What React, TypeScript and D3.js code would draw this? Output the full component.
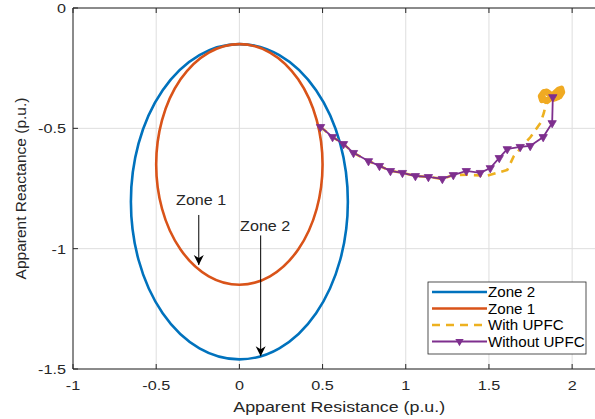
import React, { useEffect, useRef } from "react";
import * as d3 from "d3";

// x ticks / y ticks
const xTicks = [-1, -0.5, 0, 0.5, 1, 1.5, 2];
const yTicks = [0, -0.5, -1, -1.5];

// relay zones (mho circles): center R, center X, radius R, radius X
const zone2 = { cx: 0, cy: -0.805, rx: 0.652, ry: 0.655 };
const zone1 = { cx: 0, cy: -0.65, rx: 0.5, ry: 0.5 };

// impedance trajectory without UPFC
const withoutR = [0.488, 0.56, 0.626, 0.686, 0.776, 0.842, 0.908, 0.98, 1.058, 1.136, 1.22, 1.286, 1.364, 1.448, 1.508, 1.562, 1.61, 1.688, 1.748, 1.826, 1.88, 1.884];
const withoutX = [-0.494, -0.536, -0.565, -0.602, -0.636, -0.656, -0.677, -0.685, -0.698, -0.702, -0.71, -0.694, -0.677, -0.685, -0.665, -0.623, -0.586, -0.577, -0.573, -0.536, -0.478, -0.37];

// impedance trajectory with UPFC (ends in a small oscillating cluster)
const withR = [0.488, 0.56, 0.626, 0.686, 0.776, 0.842, 0.908, 0.98, 1.058, 1.136, 1.22, 1.286, 1.37, 1.49, 1.61, 1.65, 1.75, 1.81, 1.83, 1.844,
  1.818, 1.81, 1.826, 1.848, 1.868, 1.876, 1.895, 1.918, 1.936, 1.942, 1.926, 1.9, 1.878, 1.85, 1.826, 1.816, 1.83, 1.856, 1.872, 1.89, 1.912, 1.93, 1.934, 1.916, 1.892, 1.874, 1.846, 1.824, 1.822, 1.842, 1.864, 1.88];
const withX = [-0.494, -0.536, -0.565, -0.602, -0.636, -0.656, -0.677, -0.685, -0.698, -0.702, -0.71, -0.694, -0.693, -0.697, -0.673, -0.615, -0.536, -0.478, -0.436, -0.395,
  -0.384, -0.366, -0.35, -0.346, -0.356, -0.368, -0.352, -0.338, -0.334, -0.35, -0.368, -0.376, -0.372, -0.388, -0.38, -0.362, -0.348, -0.352, -0.364, -0.358, -0.344, -0.342, -0.356, -0.372, -0.378, -0.374, -0.384, -0.372, -0.356, -0.35, -0.36, -0.37];

// annotations: label, text position, arrow start, arrow end
const notes = [
  { label: "Zone 1", tx: -0.23, ty: -0.82, x1: -0.244, y1: -0.86, x2: -0.244, y2: -1.068 },
  { label: "Zone 2", tx: 0.155, ty: -0.925, x1: 0.128, y1: -0.945, x2: 0.128, y2: -1.447 },
];

const legendItems = ["Zone 2", "Zone 1", "With UPFC", "Without UPFC"];

const colors = {
  zone2: "#0072BD",
  zone1: "#D95319",
  withUpfc: "#EDB120",
  withoutUpfc: "#7E2F8E",
};

const W = 595;
const H = 419;
const margin = { left: 73, top: 8, bottom: 50 };
const font = "'Liberation Sans', Arial, sans-serif";
const axisColor = "#262626";
const stretch = 1.15;

export default function App() {
  const svgRef = useRef<SVGSVGElement>(null);

  useEffect(() => {
    const svg = d3.select(svgRef.current);
    svg.selectAll("*").remove();

    const x = d3.scaleLinear().domain([-1, 2.2]).range([margin.left, 605.4]);
    const y = d3.scaleLinear().domain([-1.5, 0]).range([369, margin.top]);

    const [x0, x1] = x.range();
    const [y0, y1] = y.range();

    // text is a bit wider than the font in the original image
    const label = (g: any, tx: number, ty: number, str: string, size: number, anchor: string, sx = stretch, fill = axisColor) =>
      g.append("text")
        .attr("transform", `translate(${tx},${ty}) scale(${sx},1)`)
        .attr("text-anchor", anchor)
        .style("font-family", font).style("font-size", size + "px").attr("fill", fill)
        .text(str);

    const defs = svg.append("defs");
    defs.append("clipPath").attr("id", "plotclip")
      .append("rect").attr("x", x0).attr("y", y1).attr("width", x1 - x0).attr("height", y0 - y1);

    defs.append("marker")
      .attr("id", "arrowhead")
      .attr("viewBox", "0 0 10 10")
      .attr("refX", 10).attr("refY", 5)
      .attr("markerWidth", 10).attr("markerHeight", 11)
      .attr("markerUnits", "userSpaceOnUse")
      .attr("orient", "auto")
      .append("path").attr("d", "M0,0 L10,5 L0,10 L3,5 Z").attr("fill", "#000");

    // grid
    const grid = svg.append("g");
    grid.selectAll(".gx").data(xTicks).join("line")
      .attr("x1", (d) => x(d)).attr("x2", (d) => x(d))
      .attr("y1", y0).attr("y2", y1)
      .attr("stroke", "#dedede").attr("stroke-width", 1);
    grid.selectAll(".gy").data(yTicks).join("line")
      .attr("y1", (d) => y(d)).attr("y2", (d) => y(d))
      .attr("x1", x0).attr("x2", x1)
      .attr("stroke", "#dedede").attr("stroke-width", 1);

    const plot = svg.append("g").attr("clip-path", "url(#plotclip)");

    // zones
    const ellipse = (z: typeof zone1, col: string) =>
      plot.append("ellipse")
        .attr("cx", x(z.cx)).attr("cy", y(z.cy))
        .attr("rx", x(z.rx) - x(0)).attr("ry", y(0) - y(z.ry))
        .attr("fill", "none").attr("stroke", col).attr("stroke-width", 2.6);
    ellipse(zone2, colors.zone2);
    ellipse(zone1, colors.zone1);

    // with UPFC
    const withPts = withR.map((r, i) => [x(r), y(withX[i])] as [number, number]);
    plot.append("path")
      .attr("d", d3.line()(withPts))
      .attr("fill", "none").attr("stroke", colors.withUpfc)
      .attr("stroke-width", 2.6).attr("stroke-dasharray", "8,6");
    // dense cluster at the end of the trace
    plot.append("path")
      .attr("d", d3.line()(withPts.slice(20)))
      .attr("fill", "none").attr("stroke", "#F0AA22")
      .attr("stroke-width", 5.5).attr("stroke-linejoin", "round").attr("stroke-linecap", "round");

    // without UPFC
    const woPts = withoutR.map((r, i) => [x(r), y(withoutX[i])] as [number, number]);
    plot.append("path")
      .attr("d", d3.line()(woPts))
      .attr("fill", "none").attr("stroke", colors.withoutUpfc).attr("stroke-width", 1.8);
    const tri = d3.symbol().type(d3.symbolTriangle).size(30);
    plot.selectAll(".mk").data(woPts).join("path")
      .attr("d", tri)
      .attr("transform", (d) => `translate(${d[0]},${d[1]}) rotate(180)`)
      .attr("fill", colors.withoutUpfc).attr("stroke", colors.withoutUpfc).attr("stroke-width", 0.8);

    // annotations
    notes.forEach((n) => {
      svg.append("line")
        .attr("x1", x(n.x1)).attr("y1", y(n.y1))
        .attr("x2", x(n.x2)).attr("y2", y(n.y2))
        .attr("stroke", "#000").attr("stroke-width", 1)
        .attr("marker-end", "url(#arrowhead)");
      label(svg, x(n.tx), y(n.ty), n.label, 14, "middle");
    });

    // axes box
    const box = svg.append("g");
    box.append("line").attr("x1", x0).attr("x2", x1).attr("y1", y0).attr("y2", y0).attr("stroke", axisColor);
    box.append("line").attr("x1", x0).attr("x2", x1).attr("y1", y1).attr("y2", y1).attr("stroke", axisColor);
    box.append("line").attr("x1", x0).attr("x2", x0).attr("y1", y0).attr("y2", y1).attr("stroke", axisColor);

    // ticks
    xTicks.forEach((t) => {
      box.append("line").attr("x1", x(t)).attr("x2", x(t)).attr("y1", y0).attr("y2", y0 - 5).attr("stroke", axisColor);
      box.append("line").attr("x1", x(t)).attr("x2", x(t)).attr("y1", y1).attr("y2", y1 + 5).attr("stroke", axisColor);
      label(box, x(t), y0 + 21, String(t), 13.5, "middle", 1.2);
    });
    yTicks.forEach((t) => {
      box.append("line").attr("x1", x0).attr("x2", x0 + 5).attr("y1", y(t)).attr("y2", y(t)).attr("stroke", axisColor);
      label(box, x0 - 7, y(t) + 5, String(t), 13.5, "end", 1.2);
    });

    // axis labels
    label(svg, (x0 + x1) / 2, 412, "Apparent Resistance (p.u.)", 15.5, "middle", 1.15);
    svg.append("text")
      .attr("transform", `translate(26,${(y0 + y1) / 2}) rotate(-90)`)
      .attr("text-anchor", "middle")
      .style("font-family", font).style("font-size", "15.5px").attr("fill", axisColor)
      .text("Apparent Reactance (p.u.)");

    // legend
    const lg = svg.append("g").attr("transform", "translate(428,282)");
    lg.append("rect").attr("width", 158).attr("height", 72)
      .attr("fill", "#fff").attr("stroke", axisColor).attr("stroke-width", 0.8);
    const styles = [
      { col: colors.zone2, dash: null, mk: false },
      { col: colors.zone1, dash: null, mk: false },
      { col: colors.withUpfc, dash: "8,6", mk: false },
      { col: colors.withoutUpfc, dash: null, mk: true },
    ];
    legendItems.forEach((name, i) => {
      const yy = 10 + i * 16.5;
      const s = styles[i];
      lg.append("line").attr("x1", 4).attr("x2", 59).attr("y1", yy).attr("y2", yy)
        .attr("stroke", s.col).attr("stroke-width", s.mk ? 1.8 : 2.6)
        .attr("stroke-dasharray", s.dash);
      if (s.mk) {
        lg.append("path").attr("d", tri)
          .attr("transform", `translate(31.5,${yy}) rotate(180)`)
          .attr("fill", s.col);
      }
      label(lg, 60, yy + 5, name, 14, "start", 1.08, "#000");
    });
  }, []);

  return (
    <svg
      ref={svgRef}
      width={W}
      height={H}
      style={{ position: "absolute", left: 0, top: 0, background: "#fff" }}
    />
  );
}
